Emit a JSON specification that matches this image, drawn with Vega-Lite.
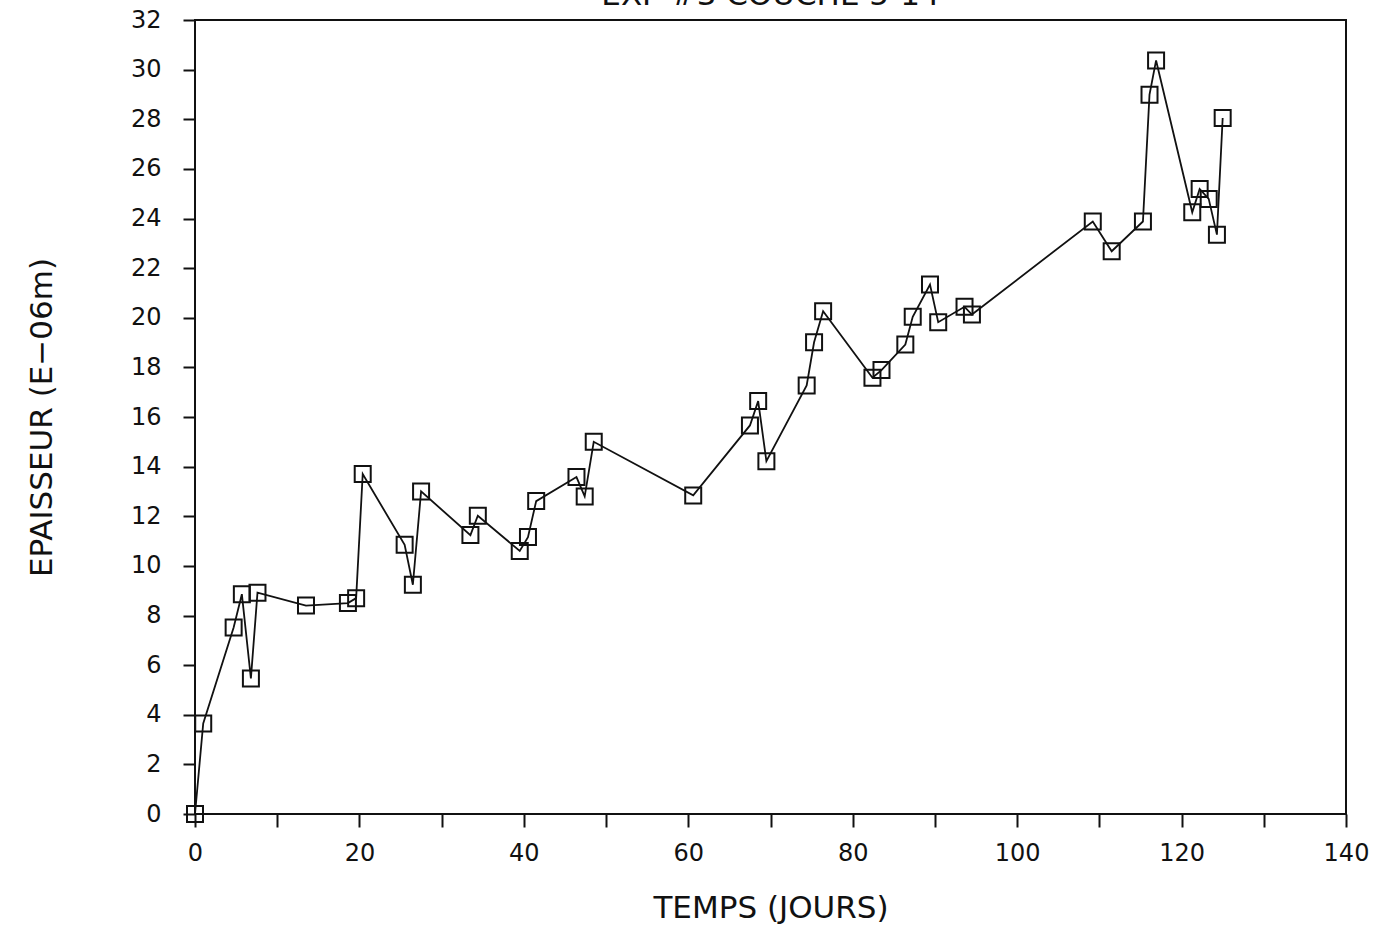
{
  "$schema": "https://vega.github.io/schema/vega-lite/v6.json",
  "width": 1151,
  "height": 794,
  "autosize": {"type": "none"},
  "padding": {"left": 195, "top": 20, "right": 34, "bottom": 114},
  "background": "white",
  "title": {
    "text": "EXP #3 COUCHE 5-14",
    "font": "DejaVu Sans",
    "fontSize": 31,
    "fontWeight": "normal",
    "color": "#111",
    "anchor": "middle",
    "baseline": "alphabetic",
    "offset": 0,
    "dy": 28
  },
  "config": {
    "view": {"stroke": "#111", "strokeWidth": 2},
    "axis": {
      "grid": false,
      "domain": false,
      "tickColor": "#111",
      "tickWidth": 2,
      "labelFont": "DejaVu Sans",
      "labelColor": "#111",
      "labelFontSize": 24,
      "titleFont": "DejaVu Sans",
      "titleColor": "#111",
      "titleFontSize": 31,
      "titleFontWeight": "normal"
    }
  },
  "data": {
    "values": [
      {"jours": 0, "epaisseur": 0},
      {"jours": 1.0, "epaisseur": 3.65},
      {"jours": 4.7, "epaisseur": 7.52},
      {"jours": 5.7, "epaisseur": 8.86},
      {"jours": 6.8, "epaisseur": 5.46},
      {"jours": 7.6, "epaisseur": 8.92},
      {"jours": 13.5, "epaisseur": 8.4},
      {"jours": 18.6, "epaisseur": 8.5},
      {"jours": 19.6, "epaisseur": 8.7},
      {"jours": 20.4, "epaisseur": 13.7},
      {"jours": 25.5, "epaisseur": 10.85},
      {"jours": 26.5, "epaisseur": 9.24},
      {"jours": 27.5, "epaisseur": 13.0},
      {"jours": 33.5, "epaisseur": 11.24},
      {"jours": 34.4, "epaisseur": 12.02},
      {"jours": 39.5, "epaisseur": 10.6},
      {"jours": 40.5, "epaisseur": 11.16},
      {"jours": 41.5, "epaisseur": 12.61},
      {"jours": 46.4, "epaisseur": 13.58},
      {"jours": 47.4, "epaisseur": 12.8},
      {"jours": 48.5, "epaisseur": 15.0},
      {"jours": 60.6, "epaisseur": 12.84},
      {"jours": 67.5, "epaisseur": 15.66},
      {"jours": 68.5, "epaisseur": 16.64},
      {"jours": 69.5, "epaisseur": 14.22},
      {"jours": 74.4, "epaisseur": 17.27},
      {"jours": 75.3, "epaisseur": 19.01},
      {"jours": 76.4, "epaisseur": 20.26},
      {"jours": 82.4, "epaisseur": 17.58},
      {"jours": 83.5, "epaisseur": 17.89},
      {"jours": 86.4, "epaisseur": 18.92},
      {"jours": 87.3, "epaisseur": 20.04},
      {"jours": 89.4, "epaisseur": 21.34},
      {"jours": 90.4, "epaisseur": 19.82},
      {"jours": 93.6, "epaisseur": 20.44},
      {"jours": 94.5, "epaisseur": 20.13},
      {"jours": 109.2, "epaisseur": 23.88},
      {"jours": 111.5, "epaisseur": 22.68},
      {"jours": 115.3, "epaisseur": 23.88},
      {"jours": 116.1, "epaisseur": 28.99},
      {"jours": 116.9, "epaisseur": 30.37},
      {"jours": 121.3, "epaisseur": 24.25},
      {"jours": 122.2, "epaisseur": 25.19},
      {"jours": 123.3, "epaisseur": 24.79},
      {"jours": 124.3, "epaisseur": 23.35},
      {"jours": 125.0, "epaisseur": 28.05}
    ]
  },
  "encoding": {
    "x": {
      "field": "jours",
      "type": "quantitative",
      "title": "TEMPS (JOURS)",
      "scale": {"domain": [0, 140], "nice": false, "zero": true},
      "axis": {
        "values": [0, 10, 20, 30, 40, 50, 60, 70, 80, 90, 100, 110, 120, 130, 140],
        "labelExpr": "datum.value % 20 === 0 ? datum.label : ''",
        "labelFlush": false,
        "labelOverlap": false,
        "tickSize": 13,
        "labelPadding": 14,
        "titlePadding": 28
      }
    },
    "y": {
      "field": "epaisseur",
      "type": "quantitative",
      "title": "EPAISSEUR (E−06m)",
      "scale": {"domain": [0, 32], "nice": false},
      "axis": {
        "values": [0, 2, 4, 6, 8, 10, 12, 14, 16, 18, 20, 22, 24, 26, 28, 30, 32],
        "labelFlush": false,
        "labelOverlap": false,
        "tickSize": 12,
        "labelPadding": 22,
        "titlePadding": 72
      }
    }
  },
  "layer": [
    {"mark": {"type": "line", "color": "#111", "strokeWidth": 1.8}},
    {
      "mark": {
        "type": "point",
        "shape": "square",
        "size": 256,
        "filled": false,
        "stroke": "#111",
        "strokeWidth": 2,
        "opacity": 1
      }
    }
  ]
}
